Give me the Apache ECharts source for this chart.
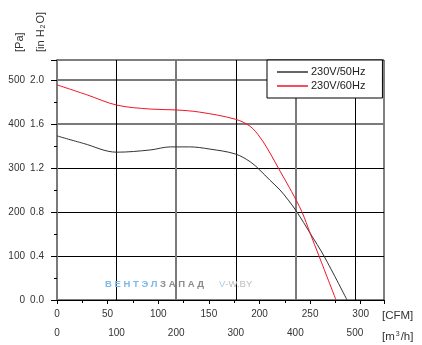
<!DOCTYPE html>
<html>
<head>
<meta charset="utf-8">
<script src="https://cdn.jsdelivr.net/npm/echarts@6/dist/echarts.min.js"></script>
<style>
html,body{margin:0;padding:0;background:#fff;}
#c{width:422px;height:345px;}
</style>
</head>
<body>
<div id="c"></div>
<script>
// Data: airflow in CFM, pressure in Pa
const flow50 = [0, 26, 59, 92, 112, 131, 151, 176, 191, 200.5, 210, 220.3, 228.5, 237, 250, 263.7, 286.5];
const pres50 = [373, 356, 336, 341, 348, 348, 343, 332, 314, 295, 273, 250, 227, 200, 152, 100, 0];
const flow60 = [0, 30, 59, 92, 117.5, 141, 176, 190.6, 200.5, 210.4, 220.3, 231.6, 242, 250, 258.8, 275.6];
const pres60 = [489, 466, 443, 434, 432, 427, 411, 395, 370, 334, 293, 247, 200, 152, 100, 0];
const seriesNames = ['230V/50Hz', '230V/60Hz'];
const paTicks = [0, 100, 200, 300, 400, 500];
const inH2OTicks = ['0.0', '0.4', '0.8', '1.2', '1.6', '2.0'];
const cfmTicks = [0, 50, 100, 150, 200, 250, 300];
const m3hTicks = [0, 100, 200, 300, 400, 500];

const CFM_MAX = 323;
const M3H_MAX = CFM_MAX * 1.699;
const PA_MAX = 545.5;
const IN_MAX = PA_MAX / 250;

const FONT = 'Liberation Sans, Arial, sans-serif';
const labelStyle = {fontFamily: FONT, fontSize: 10, color: '#333'};

const chart = echarts.init(document.getElementById('c'), null, {renderer: 'canvas'});
const zip = (a, b) => a.map((v, i) => [v, b[i]]);

chart.setOption({
  animation: false,
  backgroundColor: '#fff',
  grid: {left: 57, top: 60, right: 38, bottom: 45, show: true, borderColor: '#000', borderWidth: 1, backgroundColor: 'transparent'},
  legend: {
    left: 267, top: 60, orient: 'vertical',
    backgroundColor: '#fff', borderColor: '#000', borderWidth: 1, borderRadius: 0,
    padding: [5, 17, 5, 10],
    itemWidth: 31, itemHeight: 1.5, itemGap: 0, icon: 'rect',
    textStyle: {fontFamily: FONT, fontSize: 11, color: '#222', lineHeight: 14, padding: [0, 0, 0, -2]},
    data: seriesNames
  },
  xAxis: [
    {
      type: 'value', min: 0, max: CFM_MAX, interval: 50, position: 'bottom',
      axisLine: {show: true, onZero: false, lineStyle: {color: '#000', width: 1}},
      axisTick: {show: true, length: 4, lineStyle: {color: '#000'}},
      minorTick: {show: true, splitNumber: 2, length: 3, lineStyle: {color: '#000'}},
      axisLabel: Object.assign({margin: 9, showMaxLabel: false,
        formatter: v => cfmTicks.includes(v) ? String(v) : ''}, labelStyle),
      splitLine: {show: false}
    },
    {
      type: 'value', min: 0, max: M3H_MAX, interval: 100, position: 'bottom', offset: 19,
      axisLine: {show: false}, axisTick: {show: false},
      axisLabel: Object.assign({margin: 9, showMaxLabel: false,
        formatter: v => m3hTicks.includes(v) ? String(v) : ''}, labelStyle),
      splitLine: {show: true, lineStyle: {width: 1, color: ['transparent', '#000', 'transparent', '#000', 'transparent', '#000', 'transparent']}}
    },
    {
      type: 'value', min: 0, max: M3H_MAX, interval: 100, position: 'bottom', show: true,
      axisLine: {show: false}, axisTick: {show: false}, axisLabel: {show: false},
      splitLine: {show: true, lineStyle: {width: 2, color: ['transparent', 'transparent', '#7a7a7a', 'transparent', '#7a7a7a', 'transparent', 'transparent']}}
    }
  ],
  yAxis: [
    {
      type: 'value', min: 0, max: IN_MAX, interval: 0.4, position: 'left',
      axisLine: {show: true, onZero: false, lineStyle: {color: '#7a7a7a', width: 2}},
      axisTick: {show: true, length: 6, lineStyle: {color: '#000'}},
      minorTick: {show: true, splitNumber: 2, length: 3, lineStyle: {color: '#000'}},
      axisLabel: Object.assign({margin: 13, showMaxLabel: false,
        formatter: (v, i) => inH2OTicks[i] !== undefined ? inH2OTicks[i] : ''}, labelStyle),
      splitLine: {show: true, lineStyle: {width: 2, color: ['transparent', 'transparent', 'transparent', 'transparent', '#7a7a7a', '#7a7a7a', 'transparent']}}
    },
    {
      type: 'value', min: 0, max: PA_MAX, interval: 100, position: 'left', offset: 19,
      axisLine: {show: false}, axisTick: {show: false},
      axisLabel: Object.assign({margin: 13, showMaxLabel: false,
        formatter: v => paTicks.includes(v) ? String(v) : ''}, labelStyle),
      splitLine: {show: true, lineStyle: {width: 1, color: ['transparent', '#000', '#000', '#000', 'transparent', 'transparent', 'transparent']}}
    }
  ],
  series: [
    {
      name: seriesNames[0], type: 'line', xAxisIndex: 0, yAxisIndex: 1,
      data: zip(flow50, pres50), smooth: 0.35, showSymbol: false, symbol: 'none',
      lineStyle: {color: '#333', width: 1}, itemStyle: {color: '#333'}, z: 5
    },
    {
      name: seriesNames[1], type: 'line', xAxisIndex: 0, yAxisIndex: 1,
      data: zip(flow60, pres60), smooth: 0.35, showSymbol: false, symbol: 'none',
      lineStyle: {color: '#f0142a', width: 1}, itemStyle: {color: '#f0142a'}, z: 5
    }
  ],
  graphic: [
    {type: 'text', x: 20, y: 52, rotation: Math.PI / 2,
      style: {text: '[Pa]', fontFamily: FONT, fontSize: 11, fill: '#333', align: 'left', verticalAlign: 'middle'}},
    {type: 'text', x: 41, y: 52, rotation: Math.PI / 2,
      style: {text: '[in H{s|2}O]', fontFamily: FONT, fontSize: 11, fill: '#333', align: 'left', verticalAlign: 'middle',
        rich: {s: {fontSize: 7, fontFamily: FONT, fill: '#333', verticalAlign: 'bottom', padding: [4, 1, 0, 1]}}}},
    {type: 'text', x: 382, y: 316,
      style: {text: '[CFM]', fontFamily: FONT, fontSize: 11.5, fill: '#333', align: 'left', verticalAlign: 'middle'}},
    {type: 'text', x: 382, y: 337,
      style: {text: '[m{p|3}/h]', fontFamily: FONT, fontSize: 11.5, fill: '#333', align: 'left', verticalAlign: 'middle',
        rich: {p: {fontSize: 7, fontFamily: FONT, fill: '#333', verticalAlign: 'top', padding: [0, 1, 6, 1]}}}},
    {type: 'text', x: 105, y: 284, z: 1,
      style: {text: '{b|В Е Н Т Э Л }{g|З А П А Д}', verticalAlign: 'middle', align: 'left',
        rich: {
          b: {fontFamily: FONT, fontSize: 9.5, fontWeight: 'bold', fill: '#7cb9ea'},
          g: {fontFamily: FONT, fontSize: 9.5, fontWeight: 'bold', fill: '#8a8a8a'}
        }}},
    {type: 'text', x: 219, y: 284, z: 1,
      style: {text: '{b|V}{g|-W.BY}', verticalAlign: 'middle', align: 'left',
        rich: {
          b: {fontFamily: FONT, fontSize: 9.5, fill: '#a9cdef'},
          g: {fontFamily: FONT, fontSize: 9.5, fill: '#bdbdbd'}
        }}}
  ]
});
</script>
</body>
</html>
